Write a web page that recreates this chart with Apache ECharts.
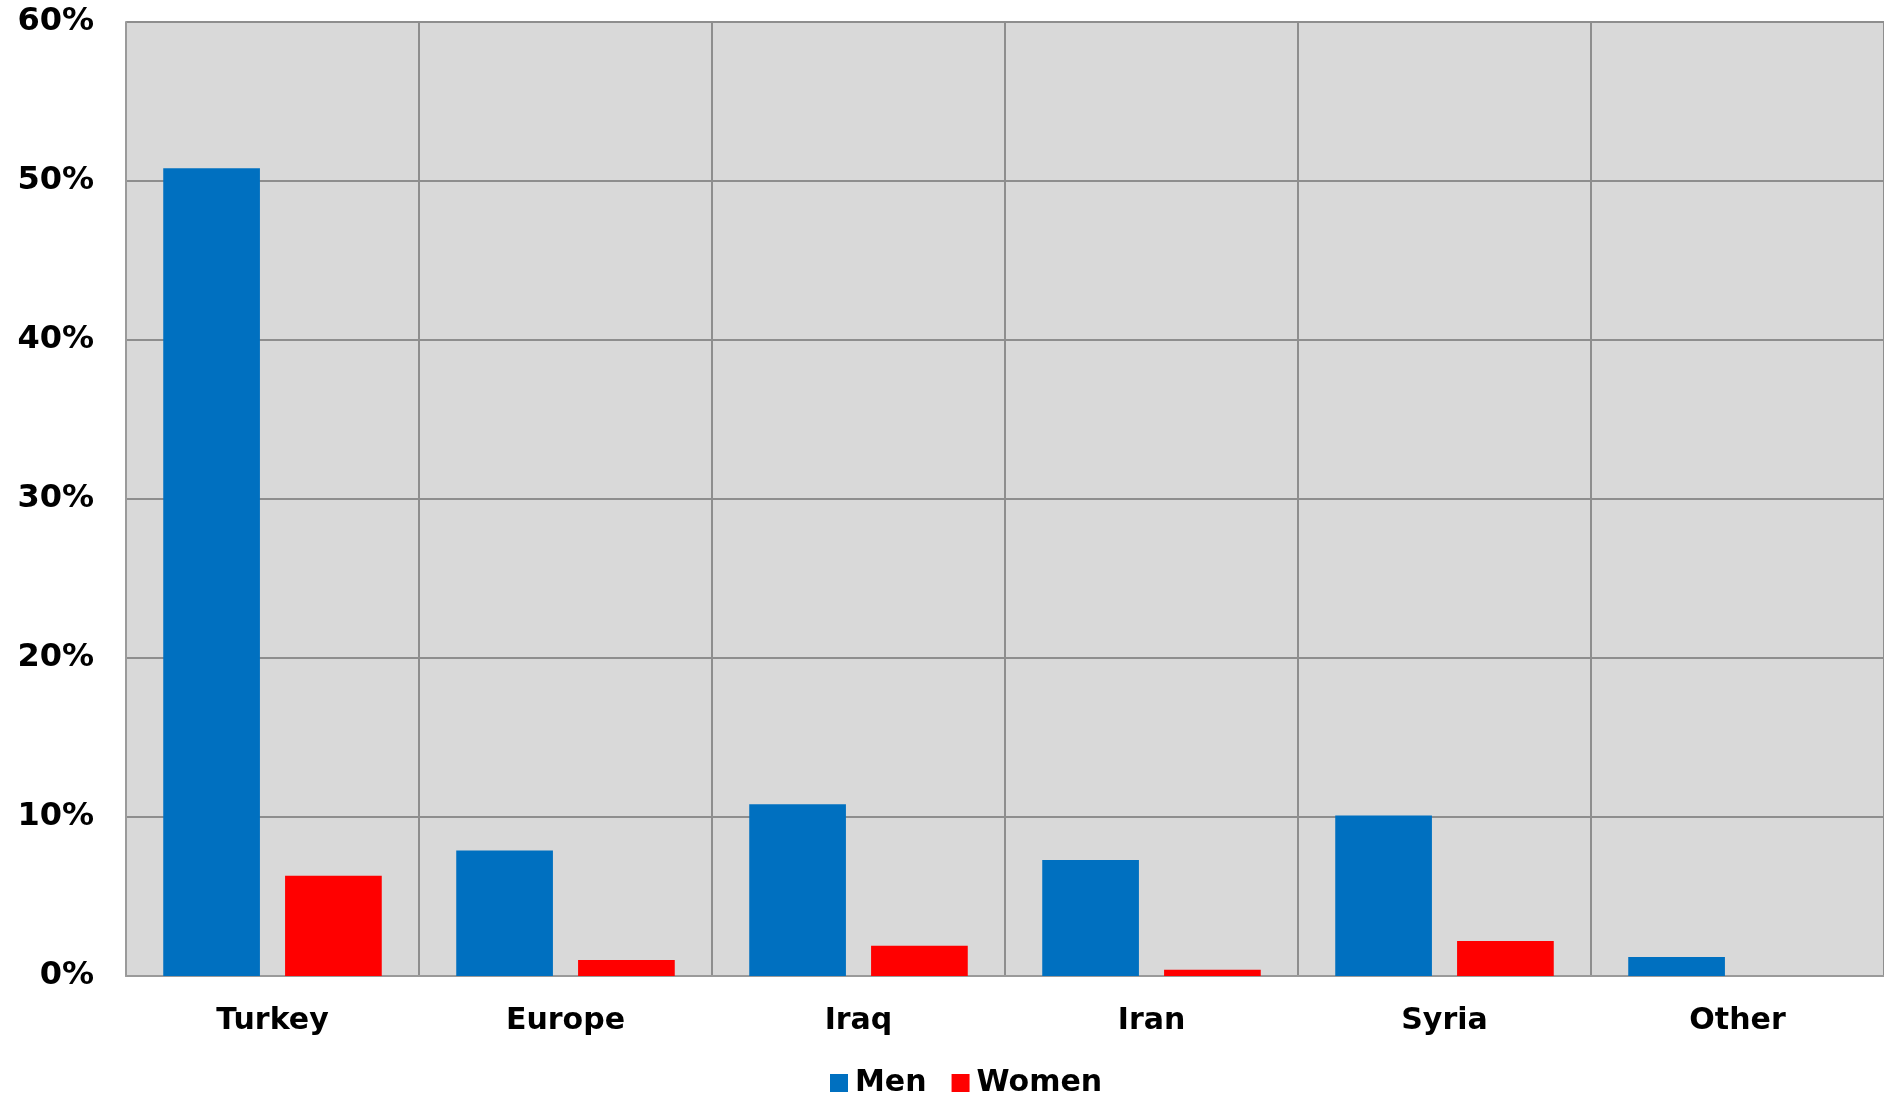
<!DOCTYPE html>
<html>
<head>
<meta charset="utf-8">
<script src="https://cdn.jsdelivr.net/npm/echarts@6/dist/echarts.min.js"></script>
<style>
html,body{margin:0;padding:0;background:#fff;}
#chart{width:1884px;height:1094px;}
</style>
</head>
<body>
<div id="chart"></div>
<script>
const categories = ['Turkey', 'Europe', 'Iraq', 'Iran', 'Syria', 'Other'];
const menValues = [50.8, 7.9, 10.8, 7.3, 10.1, 1.2];
const womenValues = [6.3, 1.0, 1.9, 0.4, 2.2, 0];
const seriesNames = ['Men', 'Women'];
const yTicks = [0, 10, 20, 30, 40, 50, 60];

const FONT = '"DejaVu Sans", Verdana, sans-serif';
const chart = echarts.init(document.getElementById('chart'), null, {renderer: 'canvas'});
chart.setOption({
  animation: false,
  backgroundColor: '#ffffff',
  grid: {
    left: 126, top: 22, width: 1766, bottom: 118,
    show: true, backgroundColor: '#D9D9D9', borderWidth: 0
  },
  legend: {
    data: seriesNames,
    left: 830, top: 1068, padding: 0,
    itemWidth: 18, itemHeight: 18, itemGap: 25,
    icon: 'rect',
    textStyle: {fontFamily: FONT, fontWeight: 'bold', fontSize: 30, color: '#000', padding: [0, 0, 0, 2]}
  },
  xAxis: {
    type: 'category',
    data: categories,
    boundaryGap: true,
    axisLine: {show: true, lineStyle: {color: '#9a9a9a', width: 2}},
    axisTick: {show: false},
    splitLine: {show: true, lineStyle: {color: '#8e8e8e', width: 2}},
    axisLabel: {fontFamily: FONT, fontWeight: 'bold', fontSize: 30, color: '#000', margin: 30}
  },
  yAxis: {
    type: 'value',
    min: yTicks[0], max: yTicks[yTicks.length - 1], interval: 10,
    axisLine: {show: true, lineStyle: {color: '#9a9a9a', width: 2}},
    axisTick: {show: false},
    splitLine: {show: true, lineStyle: {color: '#8e8e8e', width: 2}},
    axisLabel: {fontFamily: FONT, fontWeight: 'bold', fontSize: 32, color: '#000', margin: 32,
      formatter: '{value}%'}
  },
  series: [
    {name: seriesNames[0], type: 'bar', data: menValues, barWidth: '33%', barGap: '26%',
      itemStyle: {color: '#0070C0'}},
    {name: seriesNames[1], type: 'bar', data: womenValues, barWidth: '33%', barGap: '26%',
      itemStyle: {color: '#FF0000'}}
  ]
});
</script>
</body>
</html>
